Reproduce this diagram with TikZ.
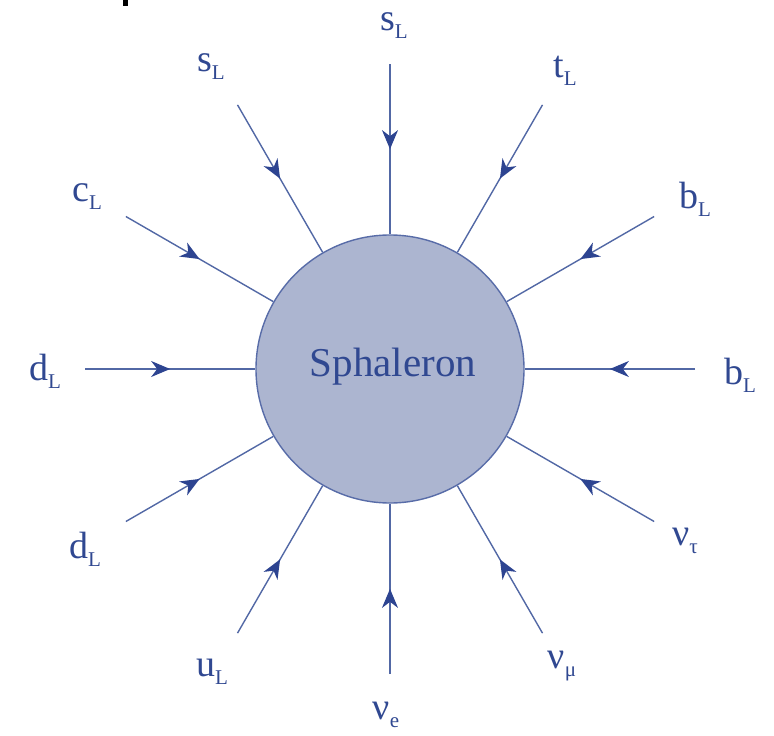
\documentclass[tikz,border=0pt]{standalone}
\usepackage{fontspec}
\setmainfont{Liberation Serif}
\usetikzlibrary{arrows.meta,decorations.markings,calc}
\definecolor{linecol}{RGB}{82,104,165}
\definecolor{headcol}{RGB}{45,68,145}
\definecolor{textcol}{RGB}{48,72,145}
\definecolor{fillcol}{RGB}{172,181,208}
\definecolor{rimcol}{RGB}{88,108,168}
\newcommand{\plbl}[2]{#1\raisebox{-8pt}{\fontsize{21}{21}\selectfont #2}}
\tikzset{
  conn/.style={draw=linecol, line width=1.4pt,
    postaction={decorate},
    decoration={markings, mark=at position 0.5 with {\arrow[headcol]{Stealth[length=19pt,width=16pt,inset=6pt]}}}},
  plabel/.style={text=textcol, font=\fontsize{38}{38}\selectfont, inner sep=0pt, anchor=center},
  sph/.style={circle, draw=rimcol, fill=fillcol, line width=1.4pt, minimum size=268pt, inner sep=0pt}
}
\begin{document}
\begin{tikzpicture}[x=1pt,y=-1pt]
\useasboundingbox (0,0) rectangle (774,736);
\fill[black] (122.5,0) rectangle (127.7,5.8);
\node[sph] (S) at (390,369) {};
\node[text=textcol, font=\fontsize{41}{41}\selectfont, inner sep=0pt, anchor=base] (St) at (393,376) {Sphaleron};
% outer ends of the lines
\foreach \a/\n in {0/o0,30/o30,60/o60,90/o90,120/o120,150/o150,180/o180,210/o210,240/o240,270/o270,300/o300,330/o330}{
  \coordinate (\n) at ($(390,369)+({305*cos(\a)},{-305*sin(\a)})$);
}
\foreach \n in {o0,o30,o60,o90,o120,o150,o180,o210,o240,o270,o300,o330}{
  \draw[conn] (\n) -- (S);
}
% labels
\node[plabel] (l0)   at (740,375) {\plbl{b}{L}};
\node[plabel] (l30)  at (695,199) {\plbl{b}{L}};
\node[plabel] (l60)  at (565,71)  {\plbl{t}{L}};
\node[plabel] (l90)  at (394,26)  {\plbl{s}{L}};
\node[plabel] (l120) at (211,67)  {\plbl{s}{L}};
\node[plabel] (l150) at (87,197)  {\plbl{c}{L}};
\node[plabel] (l180) at (45,371)  {\plbl{d}{L}};
\node[plabel] (l210) at (85,549)  {\plbl{d}{L}};
\node[plabel] (l240) at (212,672) {\plbl{u}{L}};
\node[plabel] (l270) at (386,715) {\plbl{ν}{e}};
\node[plabel] (l300) at (562,666) {\plbl{ν}{μ}};
\node[plabel] (l330) at (685,541) {\plbl{ν}{τ}};
\end{tikzpicture}
\end{document}
